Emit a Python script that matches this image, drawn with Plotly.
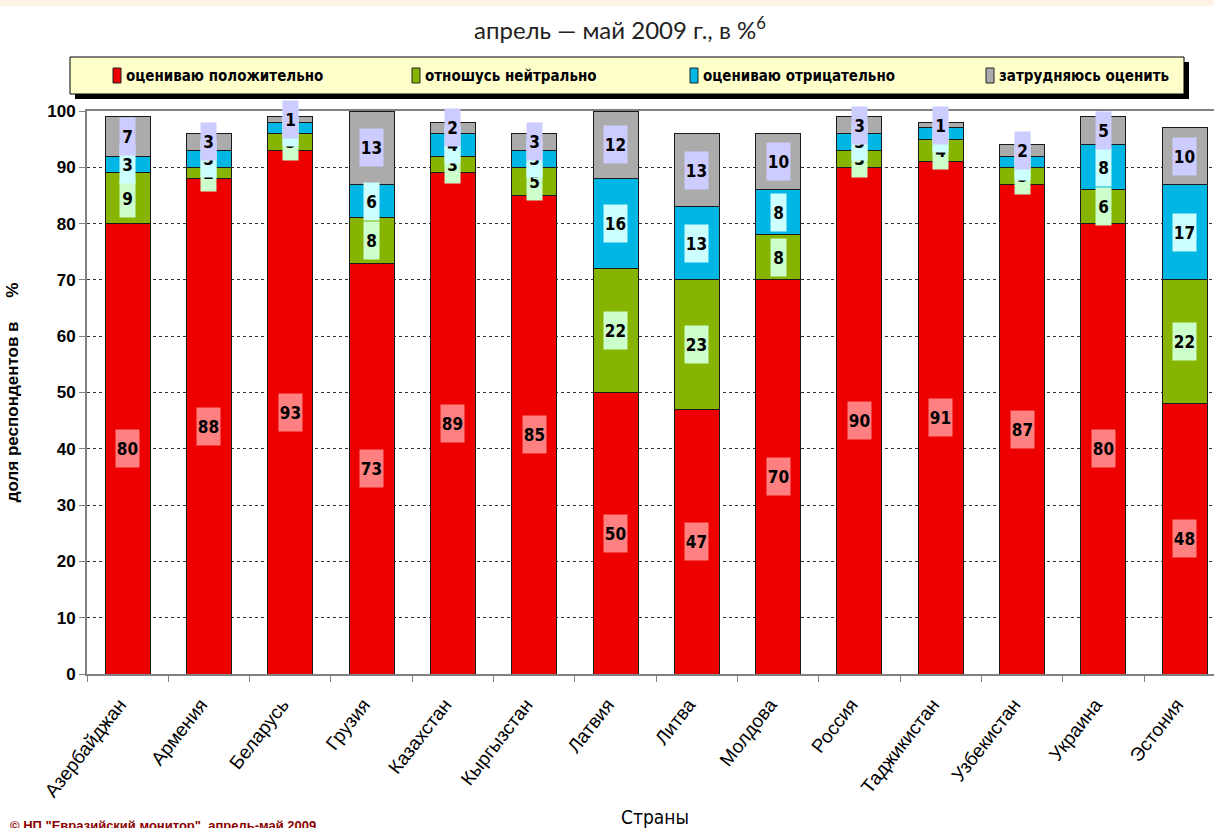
import plotly.graph_objects as go

countries = ["Азербайджан", "Армения", "Беларусь", "Грузия", "Казахстан", "Кыргызстан",
             "Латвия", "Литва", "Молдова", "Россия", "Таджикистан", "Узбекистан",
             "Украина", "Эстония"]
positive = [80, 88, 93, 73, 89, 85, 50, 47, 70, 90, 91, 87, 80, 48]
neutral = [9, 2, 3, 8, 3, 5, 22, 23, 8, 3, 4, 3, 6, 22]
negative = [3, 3, 2, 6, 4, 3, 16, 13, 8, 3, 2, 2, 8, 17]
hard_to_say = [7, 3, 1, 13, 2, 3, 12, 13, 10, 3, 1, 2, 5, 10]

series_names = ["оцениваю положительно", "отношусь нейтрально",
                "оцениваю отрицательно", "затрудняюсь оценить"]
series_values = [positive, neutral, negative, hard_to_say]
bar_colors = ["#EC0000", "#86B400", "#00B6E4", "#ABABAB"]
label_bg = ["#FF8080", "#CCFFCC", "#CCFFFF", "#CCCCFF"]

COND = "DejaVu Sans Condensed, Liberation Sans Narrow, Arial Narrow, sans-serif"
ARIAL = "Liberation Sans, Arial, sans-serif"

W, H = 1214, 828
L, R, T, B = 87, 0, 111, 154
PW, PH = W - L - R, H - T - B


def px_x(px):
    return (px - L) / PW


def px_y(py):
    return (H - B - py) / PH


fig = go.Figure()
for name, vals, col in zip(series_names, series_values, bar_colors):
    fig.add_trace(go.Bar(
        x=countries, y=vals, name=name,
        marker=dict(color=col, line=dict(color="#1a1a1a", width=1)),
        hoverinfo="x+y+name", showlegend=False,
    ))

# value labels with coloured boxes, centred in each segment
annotations = []
base = [0] * len(countries)
for vals, bg in zip(series_values, label_bg):
    for i, (c, v) in enumerate(zip(countries, vals)):
        mid = base[i] + v / 2
        txt = str(v)
        annotations.append(dict(
            x=c, y=mid, xref="x", yref="y", text="<b>%s</b>" % txt,
            showarrow=False, bgcolor=bg, borderpad=0,
            width=8 * len(txt) + 7, height=37,
            font=dict(family=COND, size=17, color="#000000"),
        ))
        base[i] += v

# manual legend (box, shadow, swatches, texts)
shapes = [
    dict(type="rect", xref="paper", yref="paper", layer="below",
         x0=px_x(0), x1=px_x(W), y0=px_y(6), y1=px_y(0),
         fillcolor="#FDF2E4", line=dict(width=0)),
    dict(type="rect", xref="paper", yref="paper", layer="below",
         x0=px_x(75), x1=px_x(1189), y0=px_y(99), y1=px_y(62),
         fillcolor="#000000", line=dict(width=0)),
    dict(type="rect", xref="paper", yref="paper", layer="below",
         x0=px_x(70), x1=px_x(1184), y0=px_y(94), y1=px_y(57),
         fillcolor="#FFFFCC", line=dict(color="#000000", width=1)),
]
legend_text_x = [124, 423, 701, 997]
for name, col, tx in zip(series_names, bar_colors, legend_text_x):
    shapes.append(dict(type="rect", xref="paper", yref="paper", layer="below",
                       x0=px_x(tx - 11), x1=px_x(tx - 3), y0=px_y(83), y1=px_y(68),
                       fillcolor=col, line=dict(color="#222222", width=1)))
    annotations.append(dict(
        x=px_x(tx), y=px_y(76), xref="paper", yref="paper",
        xanchor="left", yanchor="middle", text="<b>%s</b>" % name, showarrow=False,
        font=dict(family=COND, size=15, color="#000000"),
    ))

# axis title / footnote
annotations.append(dict(
    x=px_x(655), y=px_y(817), xref="paper", yref="paper", yanchor="middle",
    text="Страны", showarrow=False,
    font=dict(family=COND, size=19, color="#000000"),
))
annotations.append(dict(
    x=px_x(8), y=px_y(816), xref="paper", yref="paper", xanchor="left", yanchor="top",
    text="<b>© НП \"Евразийский монитор\", апрель-май 2009</b>", showarrow=False,
    font=dict(family=ARIAL, size=13, color="#8B0000"),
))

fig.update_layout(
    width=W, height=H,
    margin=dict(l=L, r=R, t=T, b=B, autoexpand=False),
    paper_bgcolor="#FFFFFF", plot_bgcolor="#FFFFFF",
    barmode="stack", bargap=0.447, showlegend=False,
    title=dict(text="апрель — май 2009 г., в %<sup>6</sup>",
               x=620 / W, xanchor="center", y=1 - 31 / H, yanchor="middle",
               font=dict(family="Lato, Noto Sans, sans-serif", size=24, color="#222222")),
    xaxis=dict(type="category", range=[-0.5, 13.36], tickangle=-52,
               showline=True, linecolor="#808080", linewidth=2, mirror=True,
               ticks="outside", tickson="boundaries", ticklen=6, tickcolor="#808080",
               tickfont=dict(family=ARIAL, size=19, color="#000000"),
               ticklabelstandoff=10, ticklabelshift=-8,
               showgrid=False),
    yaxis=dict(range=[0, 100], dtick=10, tick0=0,
               showline=True, linecolor="#808080", linewidth=2,
               ticks="outside", ticklen=6, tickcolor="#808080",
               tickfont=dict(family=ARIAL, size=17, color="#000000", weight="bold"),
               showgrid=True, gridcolor="#333333", gridwidth=1, griddash="dot",
               zeroline=False,
               title=dict(text="доля респондентов в\u00a0\u00a0\u00a0\u00a0\u00a0%", standoff=24,
                          font=dict(family=ARIAL, size=17, color="#000000", weight="bold"))),
    annotations=annotations,
    shapes=shapes,
)

fig.write_html("out.html", config={"displayModeBar": False},
               post_script="document.body.style.margin='0';")
